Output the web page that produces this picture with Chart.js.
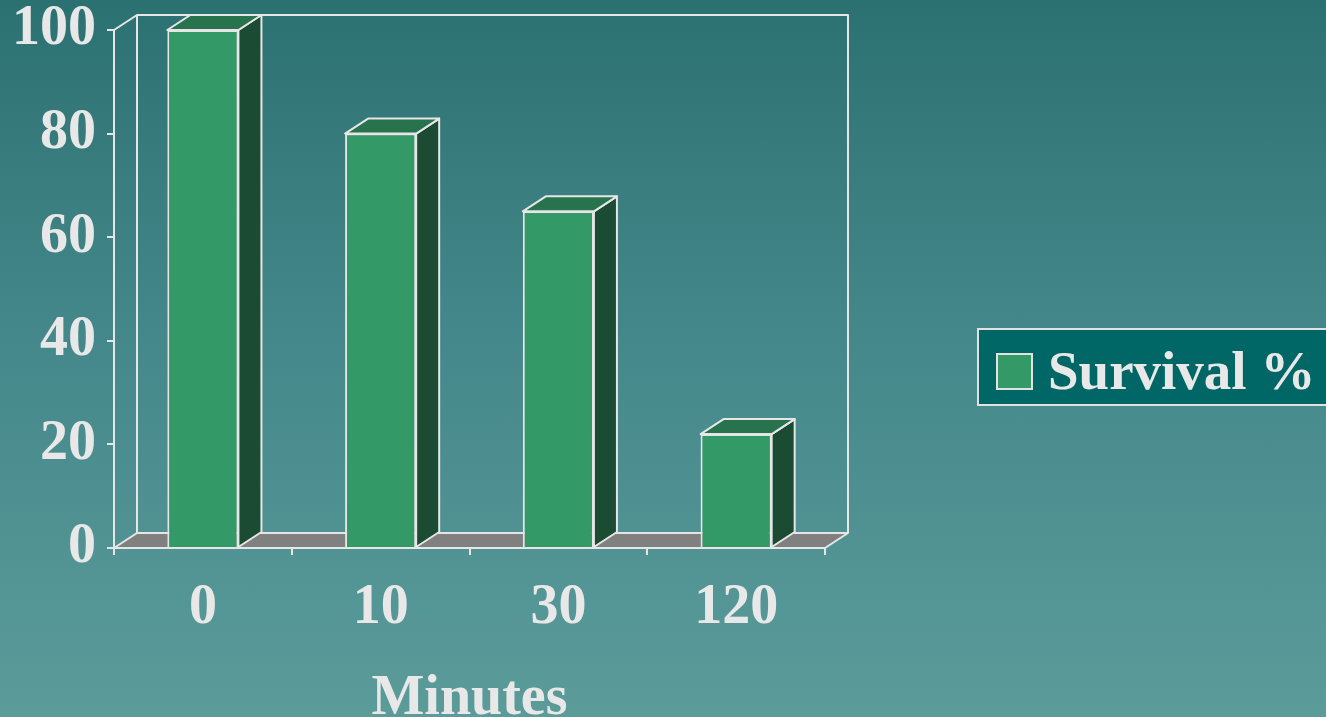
<!DOCTYPE html>
<html>
<head>
<meta charset="utf-8">
<script src="https://cdn.jsdelivr.net/npm/chart.js@4.4.1/dist/chart.umd.min.js"></script>
<style>
  html, body { margin: 0; padding: 0; }
  body {
    width: 1326px; height: 717px; overflow: hidden; position: relative;
    background: linear-gradient(to bottom, #2c7171 0%, #44878a 45%, #5b9c9a 100%);
  }
  #wrap { position: absolute; left: 0; top: 0; width: 1326px; height: 717px; }
  #legend {
    position: absolute; left: 977px; top: 328px; width: 380px; height: 74px;
    background: #006666; border: 2px solid #e2e2e2;
    font: bold 55px "Liberation Serif", "Times New Roman", serif; color: #e8e8e8;
    line-height: 74px; white-space: nowrap;
  }
  #legend .swatch {
    position: absolute; left: 17px; top: 23px; width: 33px; height: 33px;
    background: #339966; border: 2px solid #e2e2e2;
  }
  #legend .label { position: absolute; left: 69px; top: 4px; }
</style>
</head>
<body>
<div id="wrap"><canvas id="survivalChart"></canvas></div>
<div id="legend"><span class="swatch"></span><span class="label"></span></div>
<script>
document.addEventListener("DOMContentLoaded", function () {
  // data
  const minutes = ["0", "10", "30", "120"];
  const survival = [100, 80, 65, 22];
  const seriesName = "Survival %";
  const axisTitle = "Minutes";

  const DX = 23, DY = 15;           // 3d depth offset
  const LINE = "#e6e6e6";
  const FRONT = "#339966", TOP = "#26734d", SIDE = "#1b4b33", FLOOR = "#808080";
  const font = { family: "'Liberation Serif', 'Times New Roman', serif", size: 56, weight: "bold", lineHeight: 1 };

  // back wall + floor, drawn under the axes
  const wallPlugin = {
    id: "wall",
    beforeDraw(chart) {
      const { ctx, chartArea: a } = chart;
      ctx.save();
      ctx.lineWidth = 2;
      ctx.strokeStyle = LINE;
      ctx.lineJoin = "round";
      // floor
      ctx.beginPath();
      ctx.moveTo(a.left, a.bottom);
      ctx.lineTo(a.right, a.bottom);
      ctx.lineTo(a.right + DX, a.bottom - DY);
      ctx.lineTo(a.left + DX, a.bottom - DY);
      ctx.closePath();
      ctx.fillStyle = FLOOR;
      ctx.fill();
      ctx.stroke();
      // wall outline
      ctx.beginPath();
      ctx.moveTo(a.left + DX, a.bottom - DY);
      ctx.lineTo(a.left + DX, a.top - DY);
      ctx.lineTo(a.right + DX, a.top - DY);
      ctx.lineTo(a.right + DX, a.bottom - DY);
      ctx.moveTo(a.left, a.top);
      ctx.lineTo(a.left + DX, a.top - DY);
      ctx.stroke();
      ctx.restore();
    }
  };

  // top + side faces of each bar
  const boxPlugin = {
    id: "boxes",
    afterDatasetsDraw(chart) {
      const { ctx } = chart;
      ctx.save();
      ctx.lineWidth = 2;
      ctx.strokeStyle = LINE;
      ctx.lineJoin = "round";
      chart.getDatasetMeta(0).data.forEach(function (bar) {
        const p = bar.getProps(["x", "y", "base", "width"], true);
        const l = p.x - p.width / 2, r = p.x + p.width / 2;
        ctx.beginPath();
        ctx.moveTo(r, p.y);
        ctx.lineTo(r + DX, p.y - DY);
        ctx.lineTo(r + DX, p.base - DY);
        ctx.lineTo(r, p.base);
        ctx.closePath();
        ctx.fillStyle = SIDE;
        ctx.fill();
        ctx.stroke();
        ctx.beginPath();
        ctx.moveTo(l, p.y);
        ctx.lineTo(l + DX, p.y - DY);
        ctx.lineTo(r + DX, p.y - DY);
        ctx.lineTo(r, p.y);
        ctx.closePath();
        ctx.fillStyle = TOP;
        ctx.fill();
        ctx.stroke();
      });
      ctx.restore();
    }
  };

  const ctx = document.getElementById("survivalChart").getContext("2d");
  const chart = new Chart(ctx, {
    type: "bar",
    data: {
      labels: minutes,
      datasets: [{
        label: seriesName,
        data: survival,
        backgroundColor: FRONT,
        borderColor: LINE,
        borderWidth: 2,
        barPercentage: 0.4,
        categoryPercentage: 1
      }]
    },
    plugins: [wallPlugin, boxPlugin],
    options: {
      responsive: true,
      maintainAspectRatio: false,
      animation: false,
      layout: { padding: { top: 30, right: 501, left: 0, bottom: 0 } },
      plugins: { legend: { display: false }, tooltip: { enabled: false } },
      scales: {
        y: {
          min: 0, max: 100,
          ticks: { stepSize: 20, color: "#e8e8e8", font: font, padding: 11 },
          grid: { drawOnChartArea: false, tickLength: 7, color: LINE, lineWidth: 2 },
          border: { display: true, color: LINE, width: 2 },
          afterFit(s) { s.width = 114; s.paddingTop = 0; s.paddingBottom = 0; }
        },
        x: {
          ticks: { color: "#e8e8e8", font: font, padding: 26 },
          grid: { drawOnChartArea: false, tickLength: 7, color: LINE, lineWidth: 2, offset: true },
          border: { display: true, color: LINE, width: 2 },
          title: { display: true, text: axisTitle, color: "#e8e8e8", font: font, padding: { top: 0, bottom: -11 } },
          afterFit(s) { s.height = 169; s.paddingLeft = 0; s.paddingRight = 0; }
        }
      }
    }
  });

  document.querySelector("#legend .label").textContent = chart.data.datasets[0].label;
});
</script>
</body>
</html>
